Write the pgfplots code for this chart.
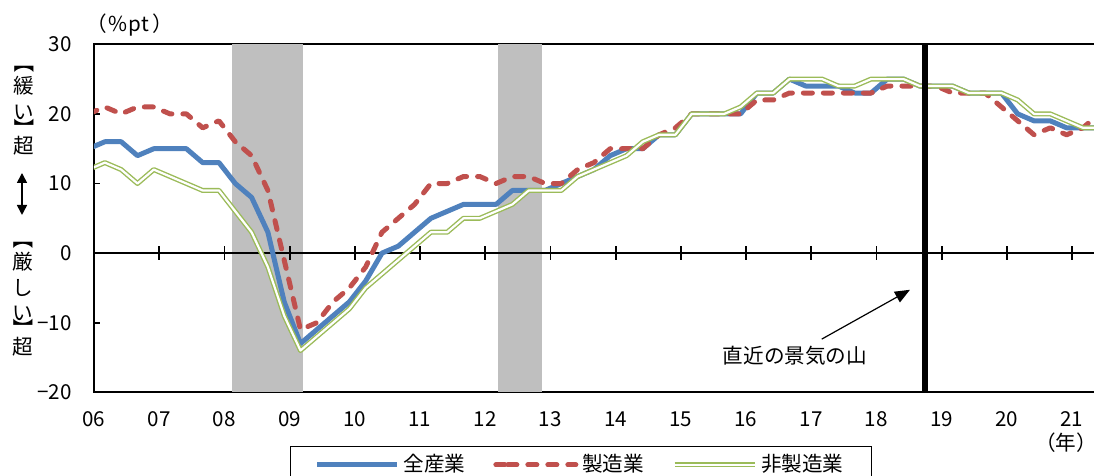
\documentclass[border=0pt]{standalone}
\usepackage{fontspec}
\setmainfont{Noto Sans CJK JP}
\usepackage{graphicx}
\usepackage{pgfplots}
\pgfplotsset{compat=1.18}
\usetikzlibrary{arrows.meta}

\definecolor{cBlue}{HTML}{4F81BD}
\definecolor{cRed}{HTML}{C0504D}
\definecolor{cGreen}{HTML}{9BBB59}
\definecolor{cShade}{HTML}{BFBFBF}
\newcommand{\lbl}{\fontsize{10.3}{12}\selectfont}
% brackets turned for vertical setting
\newcommand{\vopen}{\rotatebox[origin=c]{-90}{【}}
\newcommand{\vclose}{\rotatebox[origin=c]{-90}{】}}

\begin{document}
\begin{tikzpicture}[x=0.5pt,y=0.5pt]
\useasboundingbox (0,0) rectangle (1094,476);

% vertical axis caption: loose (top) <-> tight (bottom)
\begin{scope}[every node/.style={font=\lbl, inner sep=0pt}]
  \node at (24,413) {\vopen};
  \node at (24,390) {緩};
  \node at (24,364) {い};
  \node at (24,347) {\vclose};
  \node at (24,330) {超};
  \node at (23,237) {\vopen};
  \node at (23,214) {厳};
  \node at (23,188) {し};
  \node at (23,163) {い};
  \node at (23,147) {\vclose};
  \node at (23,129) {超};
\end{scope}
\draw[line width=0.8pt, {Triangle[width=5pt,length=5pt]}-{Triangle[width=5pt,length=5pt]}]
  (22,303) -- (22,261);

\node[font=\lbl, inner sep=0pt, anchor=west] at (86,451) {（\kern1pt\%\kern0.5pt pt\kern1.5pt）};
\node[font=\lbl, inner sep=0pt] at (1066,33) {（年）};

\begin{axis}[
  at={(47pt,41.85pt)}, anchor=south west,
  scale only axis, width=503pt, height=174pt,
  xmin=2006, xmax=2021.429, ymin=-20, ymax=30,
  axis line style={line width=0.9pt},
  tick style={line width=0.9pt, black},
  x tick style={draw=none},
  tick align=inside, major tick length=3pt,
  ytick pos=left,
  xtick={2006,2007,...,2021},
  xticklabels={06,07,08,09,10,11,12,13,14,15,16,17,18,19,20,21},
  ytick={-20,-10,0,10,20,30},
  yticklabels={−20,−10,0,10,20,30},
  ticklabel style={font=\lbl},
  xticklabel style={anchor=north, inner sep=0pt, yshift=-9.5pt},
  yticklabel style={anchor=east, inner sep=0pt, xshift=-11pt},
  legend columns=3,
  legend cell align=left,
  legend image code/.code={\path (-6pt,0pt) -- (0pt,0pt); \draw[#1] (0pt,0pt) -- (34pt,0pt);},
  legend style={at={(0.1948,-0.1543)}, anchor=north west, draw=black,
    line width=0.6pt, inner xsep=12pt, inner ysep=2pt, font=\lbl,
    nodes={inner sep=2pt},
    /tikz/every even column/.append style={column sep=12pt}},
]
% recession periods
\fill[cShade] (axis cs:2008.12,-20) rectangle (axis cs:2009.20,30);
\fill[cShade] (axis cs:2012.20,-20) rectangle (axis cs:2012.87,30);

% zero line with crossing year ticks
\draw[line width=0.9pt] (axis cs:2006,0) -- (axis cs:2021.429,0);
\pgfplotsinvokeforeach{2007,2008,...,2021}{
  \draw[line width=0.9pt] (axis cs:#1,0) ++(0pt,-3.3pt) -- ++(0pt,6.6pt);
}

% all industries
\addplot[color=cBlue, line width=2.5pt, line join=round] coordinates {
(2005.917,15)
(2006.167,16)(2006.417,16)(2006.667,14)(2006.917,15)
(2007.167,15)(2007.417,15)(2007.667,13)(2007.917,13)
(2008.167,10)(2008.417,8)(2008.667,3)(2008.917,-7)
(2009.167,-13)(2009.417,-11)(2009.667,-9)(2009.917,-7)
(2010.167,-4)(2010.417,0)(2010.667,1)(2010.917,3)
(2011.167,5)(2011.417,6)(2011.667,7)(2011.917,7)
(2012.167,7)(2012.417,9)(2012.667,9)(2012.917,9)
(2013.167,10)(2013.417,11)(2013.667,12)(2013.917,14)
(2014.167,15)(2014.417,15)(2014.667,17)(2014.917,17)
(2015.167,20)(2015.417,20)(2015.667,20)(2015.917,20)
(2016.167,23)(2016.417,23)(2016.667,25)(2016.917,24)
(2017.167,24)(2017.417,24)(2017.667,23)(2017.917,23)
(2018.167,25)(2018.417,25)(2018.667,24)(2018.917,24)
(2019.167,24)(2019.417,23)(2019.667,23)(2019.917,23)
(2020.167,20)(2020.417,19)(2020.667,19)(2020.917,18)
(2021.167,18)(2021.417,18)
};
\addlegendentry{全産業}

% manufacturing
\addplot[color=cRed, line width=2.5pt, dash pattern=on 4.5pt off 5.5pt,
  line cap=round, line join=round] coordinates {
(2005.917,20)
(2006.167,21)(2006.417,20)(2006.667,21)(2006.917,21)
(2007.167,20)(2007.417,20)(2007.667,18)(2007.917,19)
(2008.167,16)(2008.417,14)(2008.667,9)(2008.917,-1)
(2009.167,-11)(2009.417,-10)(2009.667,-7)(2009.917,-5)
(2010.167,-2)(2010.417,3)(2010.667,5)(2010.917,7)
(2011.167,10)(2011.417,10)(2011.667,11)(2011.917,11)
(2012.167,10)(2012.417,11)(2012.667,11)(2012.917,10)
(2013.167,10)(2013.417,12)(2013.667,13)(2013.917,15)
(2014.167,15)(2014.417,15)(2014.667,17)(2014.917,18)
(2015.167,20)(2015.417,20)(2015.667,20)(2015.917,20)
(2016.167,22)(2016.417,22)(2016.667,23)(2016.917,23)
(2017.167,23)(2017.417,23)(2017.667,23)(2017.917,23)
(2018.167,24)(2018.417,24)(2018.667,24)(2018.917,24)
(2019.167,23)(2019.417,23)(2019.667,23)(2019.917,21)
(2020.167,19)(2020.417,17)(2020.667,18)(2020.917,17)
(2021.167,18)(2021.417,20)
};
\addlegendentry{製造業}

% non-manufacturing
\addplot[draw=cGreen, double=white, double distance=1.1pt, line width=0.7pt,
  line join=round] coordinates {
(2005.917,12)
(2006.167,13)(2006.417,12)(2006.667,10)(2006.917,12)
(2007.167,11)(2007.417,10)(2007.667,9)(2007.917,9)
(2008.167,6)(2008.417,3)(2008.667,-2)(2008.917,-9)
(2009.167,-14)(2009.417,-12)(2009.667,-10)(2009.917,-8)
(2010.167,-5)(2010.417,-3)(2010.667,-1)(2010.917,1)
(2011.167,3)(2011.417,3)(2011.667,5)(2011.917,5)
(2012.167,6)(2012.417,7)(2012.667,9)(2012.917,9)
(2013.167,9)(2013.417,11)(2013.667,12)(2013.917,13)
(2014.167,14)(2014.417,16)(2014.667,17)(2014.917,17)
(2015.167,20)(2015.417,20)(2015.667,20)(2015.917,21)
(2016.167,23)(2016.417,23)(2016.667,25)(2016.917,25)
(2017.167,25)(2017.417,24)(2017.667,24)(2017.917,25)
(2018.167,25)(2018.417,25)(2018.667,24)(2018.917,24)
(2019.167,24)(2019.417,23)(2019.667,23)(2019.917,23)
(2020.167,22)(2020.417,20)(2020.667,20)(2020.917,19)
(2021.167,18)(2021.417,18)
};
\addlegendentry{非製造業}

% latest business-cycle peak
\draw[line width=2.65pt] (axis cs:2018.745,-20) -- (axis cs:2018.745,30);
\draw[line width=0.6pt, -{Triangle[width=6pt,length=7.5pt]}]
  (axis cs:2017.161,-12.36) -- (axis cs:2018.515,-5.27);
\node[font=\lbl, inner sep=0pt] at (axis cs:2016.75,-14.68) {直近の景気の山};
\end{axis}
\end{tikzpicture}
\end{document}
